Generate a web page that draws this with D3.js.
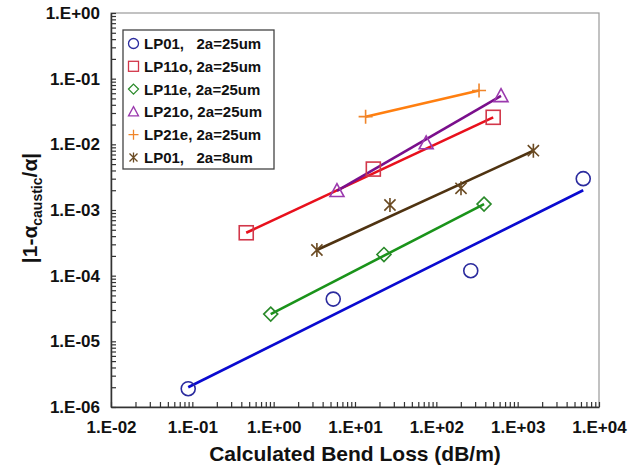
<!DOCTYPE html>
<html lang="en">
<head>
<meta charset="utf-8">
<title>Bend loss vs caustic</title>
<script src="https://d3js.org/d3.v7.min.js"></script>
<style>
  body { margin: 0; background: #fff; }
  text { font-family: "Liberation Sans", Arial, sans-serif; font-weight: bold; }
</style>
</head>
<body>
<svg id="chart" width="642" height="467"></svg>
<script>
// data: [bend loss dB/m, |1-a_caustic/a|]
var lp01_25 = [[0.089, 1.9e-6], [5.4, 4.4e-5], [265, 1.19e-4], [6400, 3.0e-3]];
var lp11o_25 = [[0.46, 4.5e-4], [16.8, 4.2e-3], [500, 2.58e-2]];
var lp11e_25 = [[0.92, 2.6e-5], [22.7, 2.1e-4], [386, 1.23e-3]];
var lp21o_25 = [[6.0, 1.95e-3], [75, 1.04e-2], [624, 5.45e-2]];
var lp21e_25 = [[13.5, 2.64e-2], [335, 6.6e-2]];
var lp01_8 = [[3.4, 2.46e-4], [26.9, 1.19e-3], [201, 2.14e-3], [1560, 8.0e-3]];

// fitted trend lines (end points)
var fit_lp01_25 = [[0.089, 2.0e-6], [6400, 2.0e-3]];
var fit_lp11o_25 = [[0.46, 4.5e-4], [500, 2.58e-2]];
var fit_lp11e_25 = [[0.92, 2.6e-5], [386, 1.23e-3]];
var fit_lp21o_25 = [[6.0, 1.95e-3], [624, 5.45e-2]];
var fit_lp21e_25 = [[13.5, 2.64e-2], [335, 6.6e-2]];
var fit_lp01_8 = [[3.4, 2.46e-4], [1560, 8.0e-3]];

var legendLabels = ["LP01,   2a=25um", "LP11o, 2a=25um", "LP11e, 2a=25um",
                    "LP21o, 2a=25um", "LP21e, 2a=25um", "LP01,   2a=8um"];
var xDomain = [1e-2, 1e4];
var yDomain = [1e-6, 1];

var series = [
  {pts: lp01_25, fit: fit_lp01_25, shape: "circle", mark: "#2b2b9e", line: "#0a0ad0"},
  {pts: lp11o_25, fit: fit_lp11o_25, shape: "square", mark: "#d2374a", line: "#e8101c"},
  {pts: lp11e_25, fit: fit_lp11e_25, shape: "diamond", mark: "#2a8a2a", line: "#1a931a"},
  {pts: lp21o_25, fit: fit_lp21o_25, shape: "triangle", mark: "#9b3aae", line: "#7a0f8c"},
  {pts: lp21e_25, fit: fit_lp21e_25, shape: "plus", mark: "#f0852a", line: "#ff7f10"},
  {pts: lp01_8, fit: fit_lp01_8, shape: "star", mark: "#6a4a22", line: "#4f3311"}
];

var svg = d3.select("#chart");
var margin = {left: 111, top: 13, right: 43, bottom: 60};
var W = 642 - margin.left - margin.right,
    H = 467 - margin.top - margin.bottom;

var x = d3.scaleLog().domain(xDomain).range([0, W]);
var y = d3.scaleLog().domain(yDomain).range([H, 0]);

var g = svg.append("g").attr("transform", "translate(" + margin.left + "," + margin.top + ")");

// frame
g.append("rect").attr("width", W).attr("height", H)
  .attr("fill", "none").attr("stroke", "#9a9a9a").attr("stroke-width", 1.2);

function allTicks(dom) {
  var t = [];
  for (var e = Math.log10(dom[0]); e < Math.log10(dom[1]); e++)
    for (var m = 1; m < 10; m++) t.push(m * Math.pow(10, e));
  t.push(dom[1]);
  return t;
}
function fmt(v) {
  var e = Math.round(Math.log10(v));
  if (Math.abs(v / Math.pow(10, e) - 1) > 1e-6) return "";
  var s = Math.abs(e) < 10 ? "0" + Math.abs(e) : "" + Math.abs(e);
  return "1.E" + (e < 0 ? "-" : "+") + s;
}

var xAxis = g.append("g").attr("transform", "translate(0," + H + ")")
  .call(d3.axisBottom(x).tickValues(allTicks(xDomain)).tickFormat(fmt)
        .tickSizeInner(-5).tickSizeOuter(0).tickPadding(14));
var yAxis = g.append("g")
  .call(d3.axisLeft(y).tickValues(allTicks(yDomain)).tickFormat(fmt)
        .tickSizeInner(-5).tickSizeOuter(0).tickPadding(11));

[xAxis, yAxis].forEach(function(a) {
  a.select(".domain").attr("stroke", "#333").attr("stroke-width", 1.5);
  a.selectAll(".tick line").attr("stroke", "#333").attr("stroke-width", 1.2);
  a.selectAll(".tick text").attr("font-size", 17).attr("fill", "#111")
    .style("font-family", "'Liberation Sans', Arial, sans-serif").style("font-weight", "bold");
});

// axis titles
svg.append("text").attr("x", margin.left + W / 2).attr("y", 461)
  .attr("text-anchor", "middle").attr("font-size", 21).attr("fill", "#111")
  .text("Calculated Bend Loss (dB/m)");

var yl = svg.append("text").attr("transform", "translate(37,208) rotate(-90)")
  .attr("text-anchor", "middle").attr("font-size", 21).attr("fill", "#111");
yl.append("tspan").text("|1-\u03b1");
yl.append("tspan").attr("font-size", 14).attr("dy", 5).text("caustic");
yl.append("tspan").attr("dy", -5).text("/\u03b1|");

// markers
function drawMarker(sel, shape, s, color, sw) {
  var h = s / 2;
  if (shape === "circle") {
    sel.append("circle").attr("r", h).attr("fill", "none").attr("stroke", color).attr("stroke-width", sw);
  } else if (shape === "square") {
    sel.append("rect").attr("x", -h).attr("y", -h).attr("width", s).attr("height", s)
      .attr("fill", "none").attr("stroke", color).attr("stroke-width", sw);
  } else if (shape === "diamond") {
    sel.append("path").attr("d", "M0," + (-h) + "L" + h + ",0L0," + h + "L" + (-h) + ",0Z")
      .attr("fill", "none").attr("stroke", color).attr("stroke-width", sw);
  } else if (shape === "triangle") {
    sel.append("path").attr("d", "M0," + (-h * 1.05) + "L" + h + "," + (h * 0.8) + "L" + (-h) + "," + (h * 0.8) + "Z")
      .attr("fill", "none").attr("stroke", color).attr("stroke-width", sw);
  } else if (shape === "plus") {
    sel.append("path").attr("d", "M" + (-h) + ",0H" + h + "M0," + (-h) + "V" + h)
      .attr("stroke", color).attr("stroke-width", sw);
  } else if (shape === "star") {
    var k = h * 0.8;
    sel.append("path").attr("d", "M" + (-k) + "," + (-k) + "L" + k + "," + k + "M" + k + "," + (-k) + "L" + (-k) + "," + k + "M0," + (-h) + "V" + h)
      .attr("stroke", color).attr("stroke-width", sw);
  }
}

var line = d3.line().x(function(d) { return x(d[0]); }).y(function(d) { return y(d[1]); });

series.forEach(function(s) {
  g.append("path").datum(s.fit).attr("d", line)
    .attr("fill", "none").attr("stroke", s.line).attr("stroke-width", 2.6);
});
series.forEach(function(s) {
  s.pts.forEach(function(p) {
    var m = g.append("g").attr("transform", "translate(" + x(p[0]) + "," + y(p[1]) + ")");
    drawMarker(m, s.shape, 14, s.mark, 1.6);
  });
});

// legend
var lg = svg.append("g").attr("transform", "translate(123,30)");
lg.append("rect").attr("width", 151).attr("height", 139)
  .attr("fill", "#fff").attr("stroke", "#444").attr("stroke-width", 1.3);
series.forEach(function(s, i) {
  var row = lg.append("g").attr("transform", "translate(0," + (13.5 + i * 22.8) + ")");
  drawMarker(row.append("g").attr("transform", "translate(10.5,0)"), s.shape, 10, s.mark, 1.3);
  row.append("text").attr("x", 21).attr("y", 5.5).attr("font-size", 15).attr("fill", "#111")
    .attr("xml:space", "preserve").style("white-space", "pre").text(legendLabels[i]);
});
</script>
</body>
</html>
